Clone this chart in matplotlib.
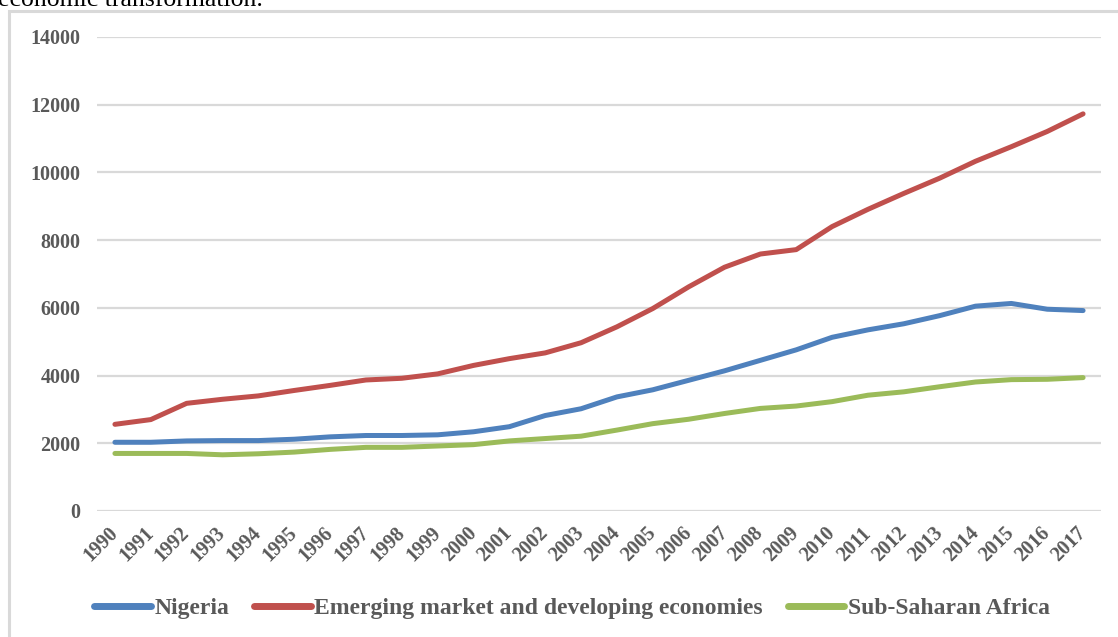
import matplotlib
matplotlib.use("Agg")
import matplotlib.pyplot as plt
from matplotlib.patches import Rectangle

years = [str(y) for y in range(1990, 2018)]

nigeria = [2030, 2030, 2070, 2080, 2080, 2120, 2190, 2230, 2230, 2250,
           2340, 2490, 2820, 3020, 3370, 3580, 3860, 4140, 4450, 4760,
           5130, 5350, 5530, 5770, 6050, 6130, 5960, 5920]
emerging = [2560, 2700, 3180, 3300, 3400, 3560, 3710, 3870, 3920, 4050,
            4300, 4500, 4670, 4970, 5440, 5980, 6620, 7200, 7590, 7720,
            8400, 8910, 9380, 9830, 10330, 10760, 11210, 11730]
ssa = [1700, 1700, 1700, 1660, 1690, 1740, 1820, 1880, 1880, 1920,
       1960, 2070, 2140, 2210, 2390, 2580, 2710, 2880, 3030, 3100,
       3230, 3420, 3520, 3670, 3810, 3880, 3890, 3940]

series = [
    ("Nigeria", nigeria, "#4f81bd"),
    ("Emerging market and developing economies", emerging, "#c0504d"),
    ("Sub-Saharan Africa", ssa, "#9bbb59"),
]

SERIF = "Liberation Serif"
GREY = "#595959"

W, H = 1118, 637
fig = plt.figure(figsize=(W / 100, H / 100), dpi=100)

# tail end of the paragraph above the chart, clipped by the page edge
fig.text(-0.002, 1 - 6 / H, "economic transformation.", family=SERIF,
         fontsize=18.5, color="black", va="baseline", ha="left")

# chart area border
fig.patches.append(Rectangle((9 / W, -0.05), 1.2, 1 - 11 / H + 0.05,
                             transform=fig.transFigure, fill=False,
                             edgecolor="#d9d9d9", lw=2.2))

ax = fig.add_axes([97 / W, 1 - 511 / H, (1101 - 97) / W, (511 - 37) / H])
x = range(len(years))
for name, vals, color in series:
    ax.plot(x, vals, color=color, lw=3.6, solid_capstyle="round",
            solid_joinstyle="round", label=name)

ax.set_xlim(-0.5, len(years) - 0.5)
ax.set_ylim(0, 14000)
ax.set_yticks(range(0, 14001, 2000))
ax.set_xticks(list(x))
ax.set_xticklabels(years, rotation=45, ha="right", va="center",
                   rotation_mode="anchor")
for lbl in ax.get_xticklabels():
    lbl.set_family(SERIF)
    lbl.set_fontweight("bold")
    lbl.set_fontsize(14.5)
    lbl.set_color(GREY)
for lbl in ax.get_yticklabels():
    lbl.set_family(SERIF)
    lbl.set_fontsize(14.5)
    lbl.set_fontweight("bold")
    lbl.set_color(GREY)
ax.tick_params(axis="both", length=0)
ax.tick_params(axis="y", pad=12)
ax.tick_params(axis="x", pad=14)
ax.grid(axis="y", color="#d9d9d9", lw=1.6)
ax.set_axisbelow(True)
for sp in ax.spines.values():
    sp.set_visible(False)

leg = ax.legend(loc="center", bbox_to_anchor=(0.473, -0.205), ncol=3,
                frameon=False, handlelength=2.4, columnspacing=1.05,
                handletextpad=0.15,
                prop={"family": SERIF, "weight": "bold", "size": 17})
for t in leg.get_texts():
    t.set_color(GREY)
for h in leg.get_lines():
    h.set_linewidth(5)

fig.savefig("out.png", dpi=100)
